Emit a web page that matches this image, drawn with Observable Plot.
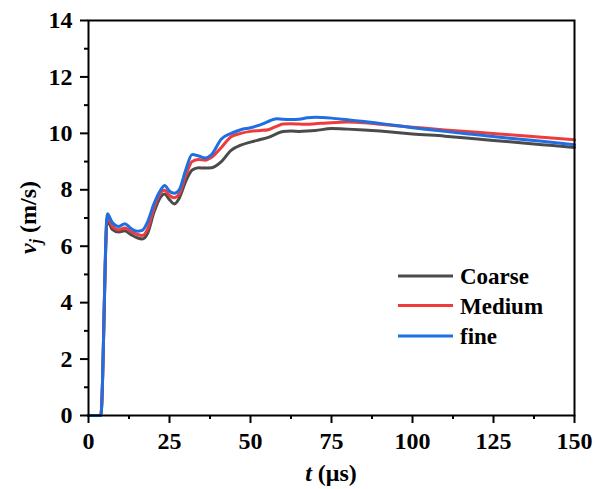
<!DOCTYPE html>
<html>
<head>
<meta charset="utf-8">
<script src="https://cdn.jsdelivr.net/npm/d3@7"></script>
<script src="https://cdn.jsdelivr.net/npm/@observablehq/plot@0.6"></script>
<style>
  html, body { margin: 0; padding: 0; background: #fff; }
  svg { display: block; }
</style>
</head>
<body>
<div id="chart"></div>
<script>
// ---- data ----
const t      = [0, 3.8, 5.8, 7.3, 9.4, 11.2, 13, 15, 16.6, 18.2, 20.2, 22.3, 23.5, 25, 26.5, 28, 30, 32, 34, 36, 38, 41, 44, 47, 50, 53, 55.5, 58, 60, 62.5, 65, 67.5, 70, 75, 80, 85, 90, 95, 100, 110, 120, 130, 140, 150];
const coarse = [0, 0, 6.95, 6.6, 6.5, 6.55, 6.42, 6.3, 6.26, 6.45, 7.2, 7.75, 7.85, 7.65, 7.5, 7.7, 8.3, 8.7, 8.78, 8.77, 8.78, 9.0, 9.4, 9.58, 9.69, 9.78, 9.86, 9.98, 10.07, 10.08, 10.07, 10.08, 10.1, 10.17, 10.15, 10.12, 10.08, 10.03, 9.98, 9.9, 9.8, 9.7, 9.6, 9.5];
const medium = [0, 0, 7.05, 6.72, 6.58, 6.65, 6.52, 6.42, 6.38, 6.6, 7.35, 7.9, 7.98, 7.8, 7.72, 7.85, 8.5, 9.0, 9.07, 9.05, 9.15, 9.5, 9.88, 10.0, 10.07, 10.1, 10.13, 10.25, 10.33, 10.34, 10.33, 10.32, 10.34, 10.38, 10.4, 10.38, 10.32, 10.27, 10.22, 10.12, 10.04, 9.95, 9.86, 9.77];
const fine   = [0, 0, 7.15, 6.85, 6.7, 6.8, 6.64, 6.53, 6.56, 6.85, 7.5, 8.0, 8.15, 7.95, 7.88, 8.0, 8.7, 9.25, 9.2, 9.13, 9.25, 9.8, 10.0, 10.13, 10.2, 10.3, 10.42, 10.52, 10.5, 10.49, 10.5, 10.55, 10.57, 10.54, 10.48, 10.42, 10.35, 10.28, 10.2, 10.07, 9.95, 9.83, 9.72, 9.6];

const seriesNames  = ["Coarse", "Medium", "fine"];
const seriesColors = ["#4b4b4b", "#ee3b3b", "#1f6ee2"];
const seriesValues = [coarse, medium, fine];

const xMajor = [0, 25, 50, 75, 100, 125, 150];
const xMinor = [12.5, 37.5, 62.5, 87.5, 112.5, 137.5];
const yMajor = [0, 2, 4, 6, 8, 10, 12, 14];
const yMinor = [1, 3, 5, 7, 9, 11, 13];

const data = seriesNames.flatMap((name, k) =>
  t.map((x, i) => ({ t: x, v: seriesValues[k][i], name }))
);

const FONT = "'Liberation Serif', 'Times New Roman', serif";
const FS = 24;
const W = 602, H = 489;
const mL = 88, mR = 28, mT = 20, mB = 74;

const svg = Plot.plot({
  width: W,
  height: H,
  marginLeft: mL,
  marginRight: mR,
  marginTop: mT,
  marginBottom: mB,
  style: { fontFamily: FONT, fontWeight: "bold", fontSize: FS + "px", color: "#000", background: "#fff" },
  x: { domain: [0, 150] },
  y: { domain: [0, 14] },
  color: { domain: seriesNames, range: seriesColors },
  marks: [
    Plot.line(data, { x: "t", y: "v", z: "name", stroke: "name", strokeWidth: 3, curve: "monotone-x" }),
    Plot.frame({ stroke: "#000", strokeWidth: 2 }),
    Plot.axisX({ ticks: xMajor, tickSize: 8, tickPadding: 8, tickFormat: d => d, label: null, fontSize: FS, fontWeight: "bold", strokeWidth: 2 }),
    Plot.axisX({ ticks: xMinor, tickSize: 4, tickFormat: () => "", label: null, strokeWidth: 2 }),
    Plot.axisY({ ticks: yMajor, tickSize: 8, tickPadding: 8, tickFormat: d => d, label: null, fontSize: FS, fontWeight: "bold", strokeWidth: 2 }),
    Plot.axisY({ ticks: yMinor, tickSize: 4, tickFormat: () => "", label: null, strokeWidth: 2 })
  ]
});

document.getElementById("chart").appendChild(svg);

// ---- axis titles & legend ----
const s = d3.select(svg);

const xt = s.append("text")
  .attr("x", (mL + W - mR) / 2)
  .attr("y", 481)
  .attr("text-anchor", "middle")
  .style("font-family", FONT).style("font-weight", "bold").style("font-size", FS + "px").attr("fill", "#000");
xt.append("tspan").style("font-style", "italic").text("t");
xt.append("tspan").text(" (\u03bcs)");

const yt = s.append("text")
  .attr("transform", `translate(36,${(mT + H - mB) / 2}) rotate(-90)`)
  .attr("text-anchor", "middle")
  .style("font-family", FONT).style("font-weight", "bold").style("font-size", FS + "px").attr("fill", "#000");
yt.append("tspan").style("font-style", "italic").text("v");
yt.append("tspan").style("font-style", "italic").style("font-size", "16px").attr("dy", 5).text("j");
yt.append("tspan").attr("dy", -5).text(" (m/s)");

const lg = s.append("g").attr("transform", "translate(398,276)");
seriesNames.forEach((name, i) => {
  const y = [0, 29.5, 60][i];
  lg.append("line").attr("x1", 0).attr("x2", 55).attr("y1", y).attr("y2", y)
    .attr("stroke", seriesColors[i]).attr("stroke-width", 3);
  lg.append("text").attr("x", 62).attr("y", y).attr("dy", "0.35em")
    .attr("text-anchor", "start")
    .style("font-family", FONT).style("font-weight", "bold").style("font-size", "23px").attr("fill", "#000")
    .text(name);
});
</script>
</body>
</html>
